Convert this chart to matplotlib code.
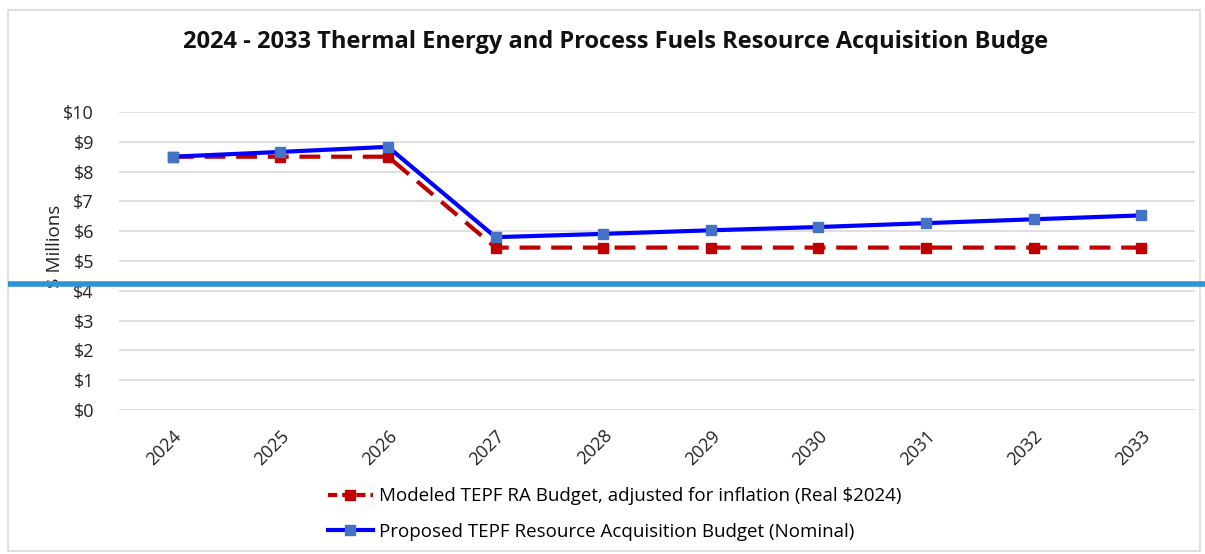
import matplotlib
matplotlib.use("Agg")
import matplotlib.pyplot as plt
from matplotlib.lines import Line2D
from matplotlib.patches import Rectangle

years = ["2024", "2025", "2026", "2027", "2028", "2029", "2030", "2031", "2032", "2033"]
modeled_real = [8.5, 8.5, 8.5, 5.45, 5.45, 5.45, 5.45, 5.45, 5.45, 5.45]
proposed_nominal = [8.5, 8.66, 8.83, 5.8, 5.91, 6.03, 6.14, 6.27, 6.40, 6.53]
yticks = [0, 1, 2, 3, 4, 5, 6, 7, 8, 9, 10]
ytick_labels = ["$0", "$1", "$2", "$3", "$4", "$5", "$6", "$7", "$8", "$9", "$10"]
title = "2024 - 2033 Thermal Energy and Process Fuels Resource Acquisition Budge"
label_modeled = "Modeled TEPF RA Budget, adjusted for inflation (Real $2024)"
label_proposed = "Proposed TEPF Resource Acquisition Budget (Nominal)"

plt.rcParams['font.family'] = ['Open Sans', 'DejaVu Sans']

W, H = 1205, 554
fig = plt.figure(figsize=(W / 100, H / 100), dpi=100)
fig.patch.set_facecolor("white")

# outer chart border
fig.patches.append(Rectangle((8 / W, 1 - 551 / H), (1200 - 8) / W, (551 - 10) / H,
                             transform=fig.transFigure, fill=False,
                             edgecolor="#d9d9d9", linewidth=1.2))

ax = fig.add_axes([119 / W, 1 - 410 / H, (1195 - 119) / W, (410 - 112) / H])
x = list(range(len(years)))

ax.plot(x, modeled_real, color="#c00000", linestyle=(0, (5, 2.6)), linewidth=3,
        marker="s", markersize=7, markerfacecolor="#c00000", markeredgecolor="#c00000",
        label=label_modeled, zorder=3)
ax.plot(x, proposed_nominal, color="#0000ff", linewidth=3,
        marker="s", markersize=7, markerfacecolor="#4472c4", markeredgecolor="#4472c4",
        label=label_proposed, zorder=4)

ax.set_xlim(-0.5, len(years) - 0.5)
ax.set_ylim(0, 10)
ax.set_yticks(yticks)
ax.set_yticklabels(ytick_labels, fontsize=13)
ax.set_xticks(x)
ax.set_xticklabels(years, rotation=45, fontsize=13, ha="right", rotation_mode="anchor")
ax.tick_params(axis="both", length=0, colors="#222222")
ax.tick_params(axis="y", pad=18)
ax.tick_params(axis="x", pad=12)
ax.grid(axis="y", color="#d9d9d9", linewidth=1.2)
ax.set_axisbelow(True)
for s in ax.spines.values():
    s.set_visible(False)

ax.set_ylabel("$ Millions", fontsize=13.5, color="#222222")
ax.yaxis.set_label_coords(-0.051, 0.55)

fig.text(616 / W, 1 - 42 / H, title, ha="center", va="center",
         fontsize=17, fontweight="bold", color="#111111")

handles = [
    Line2D([], [], color="#c00000", linestyle=(0, (2.2, 1.2)), linewidth=3, marker="s",
           markersize=7, markerfacecolor="#c00000", markeredgecolor="#c00000"),
    Line2D([], [], color="#0000ff", linewidth=3, marker="s", markersize=7,
           markerfacecolor="#4472c4", markeredgecolor="#4472c4"),
]
fig.legend(handles, [label_modeled, label_proposed], loc="center left",
           bbox_to_anchor=(311 / W, 1 - 514 / H), frameon=False, fontsize=13.5,
           handlelength=2.4, handletextpad=0.3, labelspacing=0.95)

# blue horizontal overlay bar across the picture
fig.add_artist(Line2D([8 / W, 1.0], [1 - 284 / H, 1 - 284 / H], transform=fig.transFigure,
                      color="#2e94d4", linewidth=4, solid_capstyle="butt", zorder=10))

fig.savefig("out.png", dpi=100, facecolor="white")
